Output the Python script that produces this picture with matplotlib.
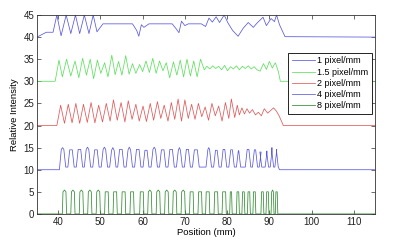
import matplotlib
matplotlib.use("Agg")
import matplotlib.pyplot as plt

plt.rcParams['font.family'] = ['Liberation Sans', 'DejaVu Sans']

# --- data ---
labels = ['1 pixel/mm', '1.5 pixel/mm', '2 pixel/mm', '4 pixel/mm', '8 pixel/mm']

# 1 pixel/mm (vertices)
s1_x = [35, 35.6, 37.2, 38.8, 39.7, 40.7, 41.9, 43.0, 44.1, 45.1, 46.2, 47.3, 48.3, 49.2,
        50.6, 57.6, 58.6, 59.1, 59.7, 60.3, 61.5, 67.0, 68.0, 68.6, 69.2, 70.0, 70.8,
        73.9, 74.9, 75.7, 76.5, 77.4, 78.2, 79.3, 80.2, 81.3, 82.6, 83.8, 85.0, 86.2,
        87.1, 88.5, 89.3, 90.4, 91.2, 91.7, 92.4, 93.7, 115]
s1_y = [40, 40.3, 41.1, 41.1, 45, 40.3, 45, 40.8, 45, 40.8, 45, 40.8, 45, 41.2,
        43, 43, 41.5, 40.2, 42.8, 42.2, 43, 43, 41.8, 41.0, 43.6, 42.6, 43,
        43, 42.4, 44.3, 43.4, 44.6, 43.3, 45.0, 43.2, 41.5, 40.2, 42.0, 43.3, 42.2,
        43.2, 44.5, 42.6, 44.2, 43.5, 45.0, 42.8, 40.1, 40]

# 1.5 pixel/mm (vertices)
s2_x = [35, 39.3, 40.2, 41.0, 42.0, 43.0, 44.0, 44.9, 45.8, 46.7, 47.6, 48.4, 49.3, 50.1,
        51.0, 51.8, 52.7, 53.5, 54.3, 55.1, 56.0, 56.8, 57.6, 58.4, 59.3, 60.0, 60.8,
        61.6, 62.4, 63.2, 64.0, 64.8, 65.6, 66.4, 67.3, 68.1, 68.9, 69.7, 70.5, 71.3,
        72.1, 72.9, 73.7, 74.6, 75.2, 75.9, 76.6, 77.3, 78.0, 78.7, 79.4, 80.1, 80.8,
        81.5, 82.2, 82.9, 83.6, 84.3, 85.0, 85.7, 86.4, 87.1, 87.8, 88.6, 89.3, 90.0,
        90.7, 91.4, 92.1, 92.6, 115]
s2_y = [30, 30, 34.8, 31.0, 35.0, 31.2, 34.6, 30.8, 35.2, 31.4, 35.0, 30.6, 34.8, 31.8,
        34.2, 31.0, 35.9, 31.5, 34.5, 31.4, 35.8, 31.6, 34.0, 31.8, 33.8, 32.2, 34.6,
        32.0, 35.2, 31.8, 34.6, 32.4, 34.2, 30.8, 34.4, 31.4, 34.8, 31.0, 35.0, 31.2,
        34.6, 31.0, 35.0, 32.6, 33.4, 32.8, 33.5, 32.9, 33.4, 32.6, 33.6, 32.4, 33.3,
        32.8, 33.5, 32.6, 33.4, 32.9, 33.5, 32.8, 33.3, 32.6, 32.3, 34.0, 32.7, 34.5,
        33.0, 34.2, 32.3, 30.0, 30]

# 2 pixel/mm (vertices)
s3_x = [35, 39.7, 40.6, 41.5, 42.4, 43.3, 44.2, 45.1, 46.0, 46.9, 47.8, 48.7, 49.6, 50.5,
        51.4, 52.3, 53.1, 54.0, 54.9, 55.8, 56.6, 57.5, 58.4, 59.2, 60.1, 60.9, 61.8,
        62.6, 63.5, 64.3, 65.1, 66.0, 66.8, 67.6, 68.4, 69.2, 70.0, 70.8, 71.6, 72.4,
        73.2, 74.0, 74.8, 75.6, 76.4, 77.2, 78.0, 78.8, 79.6, 80.4, 81.0, 81.8, 82.4,
        82.9, 83.5, 84.1, 84.7, 85.3, 86.0, 86.7, 87.4, 88.1, 88.8, 89.6, 90.3, 91.0,
        91.7, 92.3, 93.3, 115]
s3_y = [20, 20, 24.6, 20.5, 24.8, 20.6, 25.0, 20.5, 24.8, 20.7, 25.2, 20.6, 24.6, 20.8,
        25.0, 21.0, 25.8, 21.2, 25.2, 20.8, 25.6, 21.4, 24.8, 21.0, 24.4, 20.9, 25.0,
        21.2, 25.4, 21.6, 24.6, 21.0, 25.2, 21.4, 26.0, 21.0, 25.8, 21.6, 24.8, 21.4,
        25.0, 22.0, 24.2, 21.2, 25.0, 22.2, 24.4, 21.0, 25.2, 21.6, 26.0, 21.8, 24.6,
        22.4, 24.0, 22.6, 23.8, 22.8, 23.6, 22.4, 23.0, 22.2, 23.8, 22.8, 23.4, 24.0,
        23.2, 22.2, 20.0, 20]

# 4 pixel/mm (pulses: start, end, plateau, peak)
s4_on = [40.3, 42.3, 44.3, 46.2, 48.2, 50.2, 52.2, 54.1, 56.1, 58.1, 60.1, 62.0,
         64.0, 66.0, 68.0, 69.9, 71.8, 75.0, 76.8, 78.6, 80.4, 82.2, 84.3, 86.0,
         87.6, 89.0, 90.2, 91.3]
s4_off = [41.8, 43.8, 45.8, 47.7, 49.7, 51.7, 53.7, 55.6, 57.6, 59.6, 61.5, 63.5,
          65.5, 67.5, 69.4, 71.3, 73.4, 76.3, 78.1, 79.9, 81.7, 83.2, 85.6, 87.2,
          88.2, 89.8, 91.0, 92.1]
s4_top = [14.6, 14.5, 14.6, 14.6, 14.5, 14.6, 14.4, 14.6, 14.5, 14.6, 14.4, 14.6,
          14.5, 14.6, 14.4, 14.6, 14.5, 14.6, 14.4, 14.6, 14.5, 14.3, 14.6, 14.5,
          14.0, 14.2, 14.6, 14.6]
s4_peak = [15.0, 14.5, 14.6, 15.1, 14.5, 15.1, 15.0, 14.6, 15.1, 14.6, 14.4, 15.1,
           14.5, 14.6, 15.0, 14.6, 14.5, 15.0, 14.4, 14.6, 14.5, 14.3, 14.6, 14.5,
           14.0, 14.2, 15.0, 14.6]
s4_base = 10.0
s4_low = 10.6

# 8 pixel/mm (pulses)
s5_on = [41.0, 43.0, 45.0, 47.0, 49.0, 51.0, 53.0, 55.0, 57.0, 59.3, 61.2, 63.2,
         65.2, 67.1, 69.1, 71.1, 73.1, 74.9, 76.9, 78.8, 80.6, 82.2, 83.5, 84.8,
         86.1, 88.0, 89.2, 90.4, 91.4]
s5_off = [42.0, 44.0, 46.0, 48.0, 50.0, 52.0, 54.0, 56.0, 58.0, 60.3, 62.2, 64.2,
          66.2, 68.1, 70.1, 72.1, 74.1, 75.9, 77.9, 79.8, 81.2, 82.9, 84.2, 85.5,
          86.8, 88.7, 89.9, 91.1, 92.0]
s5_peak = [5.4, 5.4, 5.4, 5.4, 5.4, 5.0, 5.0, 5.0, 5.0, 5.0, 5.4, 5.4,
           5.4, 5.4, 5.4, 5.0, 5.0, 5.0, 5.0, 5.0, 5.0, 5.0, 5.0, 5.0,
           5.0, 5.0, 5.0, 5.4, 5.0]
s5_top = 5.0
s5_base = 0.0

colors = ['#5858e0', '#5ce05c', '#e05858', '#5858e0', '#2e8b2e']


def pulse_line(on, off, top, peak, base, low, ramp):
    xs = [35]
    ys = [base]
    for i in range(len(on)):
        mid = (on[i] + off[i]) / 2
        xs += [on[i], on[i] + ramp, mid, off[i] - ramp, off[i]]
        ys += [low if i > 0 else base, top[i], peak[i], top[i], low]
    xs += [off[-1] + 0.3, 115]
    ys += [base, base]
    return xs, ys


x4, y4 = pulse_line(s4_on, s4_off, s4_top, s4_peak, s4_base, s4_low, 0.45)
x5, y5 = pulse_line(s5_on, s5_off, [s5_top] * len(s5_on), s5_peak, s5_base, s5_base, 0.15)

fig = plt.figure(figsize=(4.0, 2.42), dpi=100)
ax = fig.add_axes([0.0925, 0.116, 0.845, 0.822])

series = [(s1_x, s1_y), (s2_x, s2_y), (s3_x, s3_y), (x4, y4), (x5, y5)]
for (xs, ys), c, lab in zip(series, colors, labels):
    ax.plot(xs, ys, color=c, lw=0.55, label=lab)

ax.set_xlim(35, 115)
ax.set_ylim(0, 45)
ax.set_xticks(range(40, 111, 10))
ax.set_yticks(range(0, 46, 5))
ax.tick_params(direction='in', top=True, right=True, length=3, width=0.5,
               labelsize=7, pad=2, colors='#333333', labelcolor='#222222')
for sp in ax.spines.values():
    sp.set_linewidth(0.6)
    sp.set_color('#333333')

ax.set_xlabel('Position (mm)', fontsize=6.8, labelpad=1)
ax.set_ylabel('Relative Intensity', fontsize=6.8, labelpad=3)

leg = ax.legend(loc='upper right', bbox_to_anchor=(0.991, 0.81), fontsize=6.5,
                handlelength=2.5, handletextpad=0.3, borderpad=0.4,
                labelspacing=0.25, borderaxespad=0, fancybox=False, framealpha=1)
leg.get_frame().set_edgecolor('black')
leg.get_frame().set_linewidth(0.6)

fig.savefig('out.png', dpi=100)
